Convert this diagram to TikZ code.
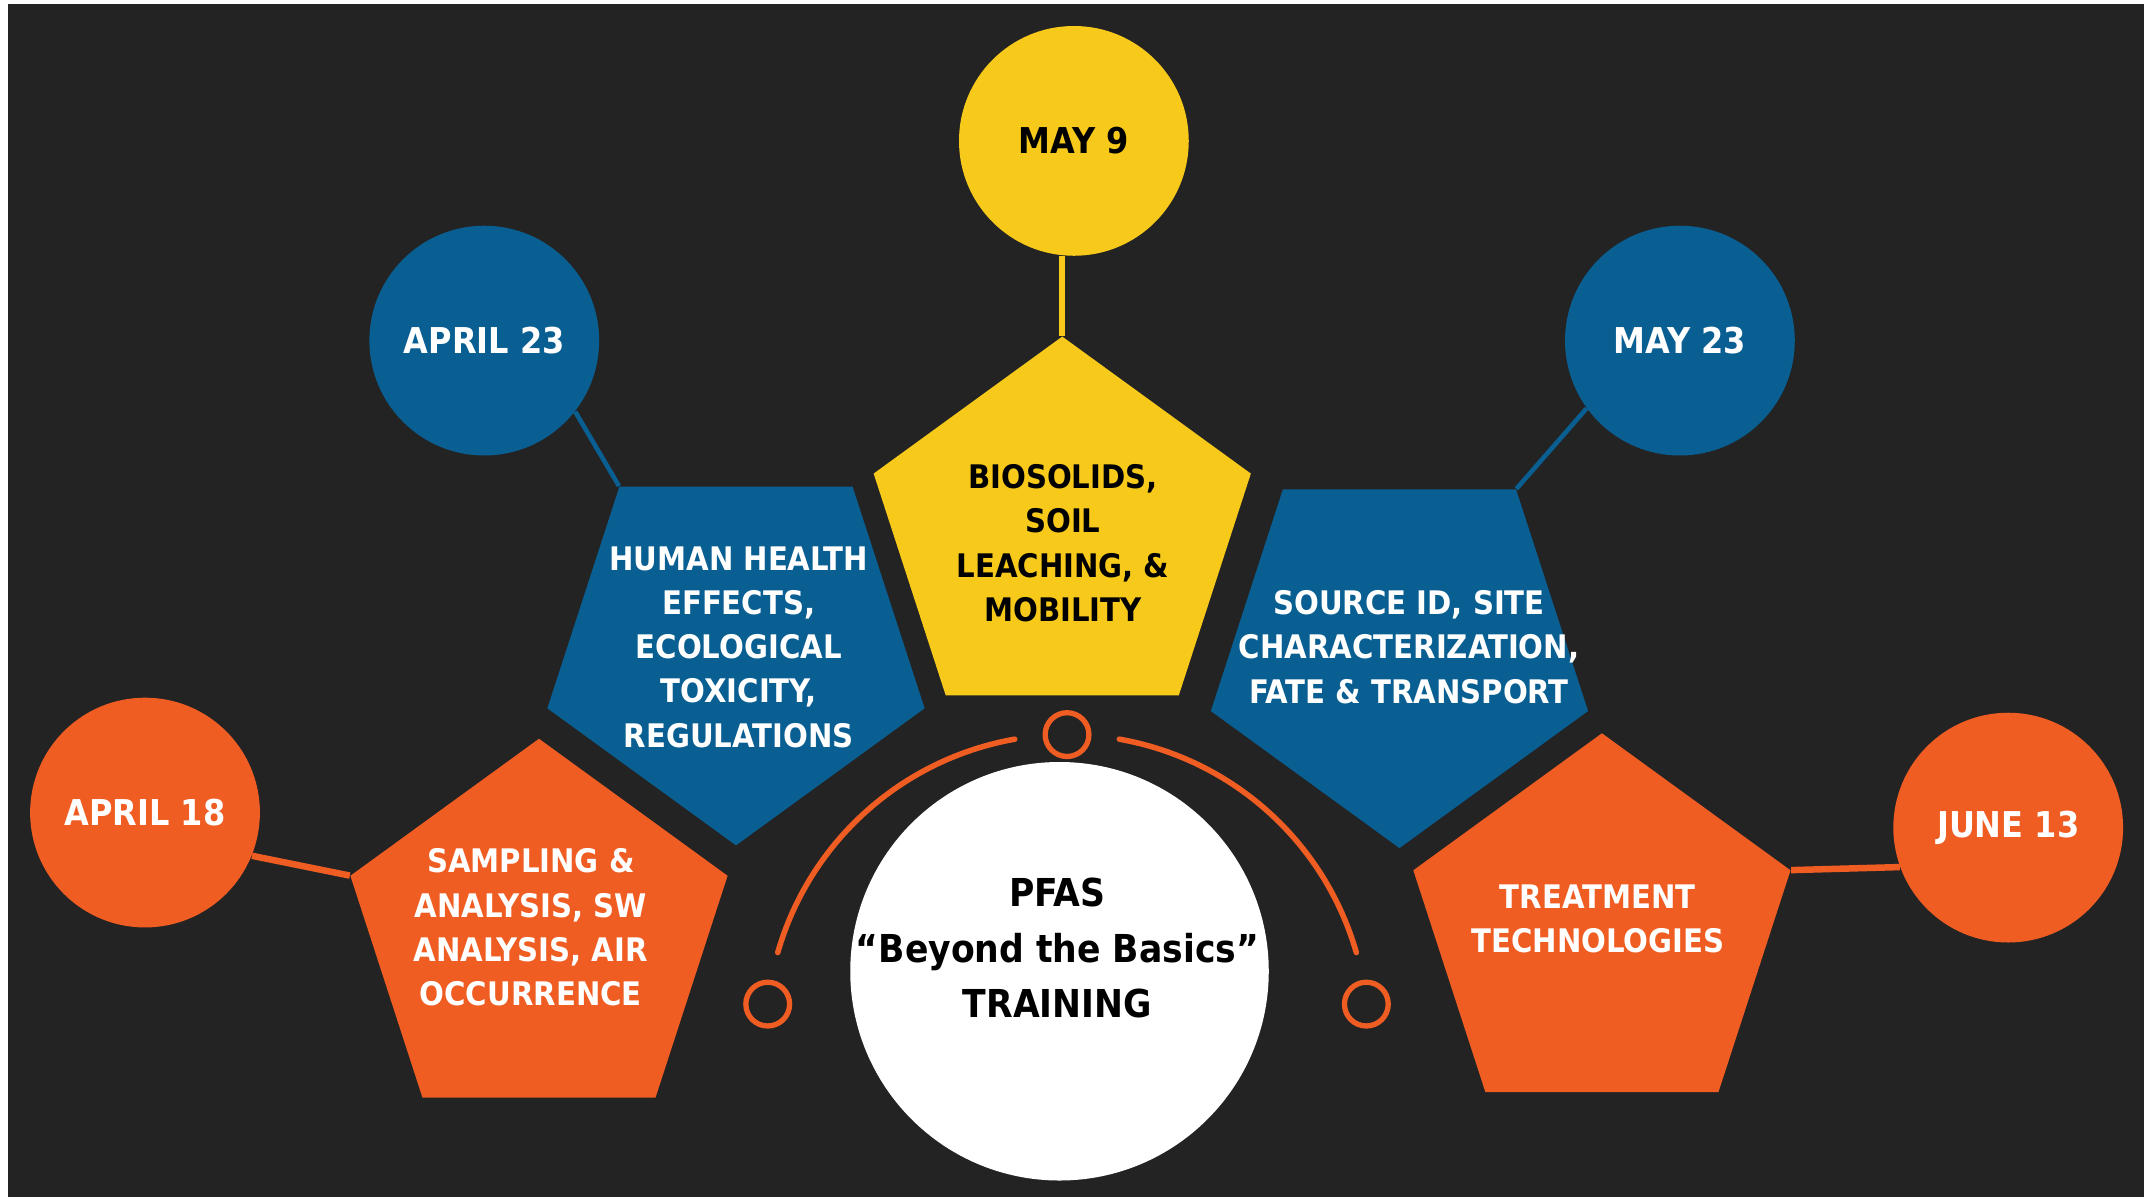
\documentclass[tikz,border=0pt]{standalone}
\usepackage{fontspec}
\setmainfont{DejaVu Sans Condensed}
\usetikzlibrary{shapes.geometric}
\definecolor{bgdark}{HTML}{232323}
\definecolor{pfasorange}{HTML}{F05D23}
\definecolor{pfasblue}{HTML}{0A5F92}
\definecolor{pfasyellow}{HTML}{F6C91A}

\begin{document}
\begin{tikzpicture}[x=0.02cm, y=0.02cm,
	date/.style={circle, minimum size=3.36cm, inner sep=0pt, font=\bfseries\fontsize{14.8}{18}\selectfont},
	pent/.style={regular polygon, regular polygon sides=5, minimum size=5.8cm, inner sep=0pt},
	down/.style={shape border rotate=180},
	topic/.style={align=center, font=\bfseries\fontsize{13.5}{18.4}\selectfont},
	link/.style={line width=2.4pt},
	ring/.style={pfasorange, line width=2.3pt, line cap=round},
	dot/.style={circle, draw=pfasorange, line width=2.2pt, minimum size=0.64cm, inner sep=0pt}]
	\useasboundingbox (0,0) rectangle (1568,875);
	\fill[white] (0,0) rectangle (1568,875);
	\fill[bgdark] (6,0) rectangle (1567,872);

	\node[pent, fill=pfasyellow] (p9) at (776.5,484) {};
	\node[pent, down, fill=pfasblue] (p423) at (538,402) {};
	\node[pent, down, fill=pfasblue] (p523) at (1023,400) {};
	\node[pent, fill=pfasorange] (p418) at (394,190) {};
	\node[pent, fill=pfasorange] (p613) at (1171,194) {};

	\node[date, fill=pfasyellow] (d9) at (785,772) {MAY 9};
	\node[date, fill=pfasblue, text=white] (d423) at (354,626) {APRIL 23};
	\node[date, fill=pfasblue, text=white] (d523) at (1228,626) {MAY 23};
	\node[date, fill=pfasorange, text=white] (d418) at (106,281) {APRIL 18};
	\node[date, fill=pfasorange, text=white] (d613) at (1468,270) {JUNE 13};

	\draw[link, pfasyellow] (p9.corner 1) -- (p9.corner 1 |- d9.south);
	\draw[link, pfasblue, line width=1.9pt] (p423.corner 4) -- (d423.-38);
	\draw[link, pfasblue, line width=1.9pt] (p523.corner 3) -- (d523.216);
	\draw[link, pfasorange, line width=2.7pt] (p418.corner 2) -- (d418.-22);
	\draw[link, pfasorange, line width=2.7pt] (p613.corner 5) -- (d613.200);

	\node[topic] (t9) at (777,478) {BIOSOLIDS,\\SOIL\\LEACHING, \&\\MOBILITY};
	\node[topic, text=white] (t423) at (540,402) {HUMAN HEALTH\\EFFECTS,\\ECOLOGICAL\\TOXICITY,\\REGULATIONS};
	\node[topic, text=white] (t523) at (1030,402) {SOURCE ID, SITE\\CHARACTERIZATION,\\FATE \& TRANSPORT};
	\node[topic, text=white] (t418) at (388,197) {SAMPLING \&\\ANALYSIS, SW\\ANALYSIS, AIR\\OCCURRENCE};
	\node[topic, text=white] (t613) at (1168,203) {TREATMENT\\TECHNOLOGIES};

	\node[circle, fill=white, minimum size=6.12cm, inner sep=0pt] (hub) at (774.5,165) {};
	\node[align=center, font=\bfseries\fontsize{16}{23}\selectfont] (hubtext) at (773,182) {PFAS\\“Beyond the Basics”\\TRAINING};

	\coordinate (ringc) at (780,118);
	\draw[ring] (ringc) ++(164:220) arc[start angle=164, end angle=100, radius=220];
	\draw[ring] (ringc) ++(80:220) arc[start angle=80, end angle=16, radius=220];
	\path (ringc) ++(174:220) node[dot] (s1) {};
	\path (ringc) ++(90:220) node[dot] (s2) {};
	\path (ringc) ++(6:220) node[dot] (s3) {};
\end{tikzpicture}
\end{document}
